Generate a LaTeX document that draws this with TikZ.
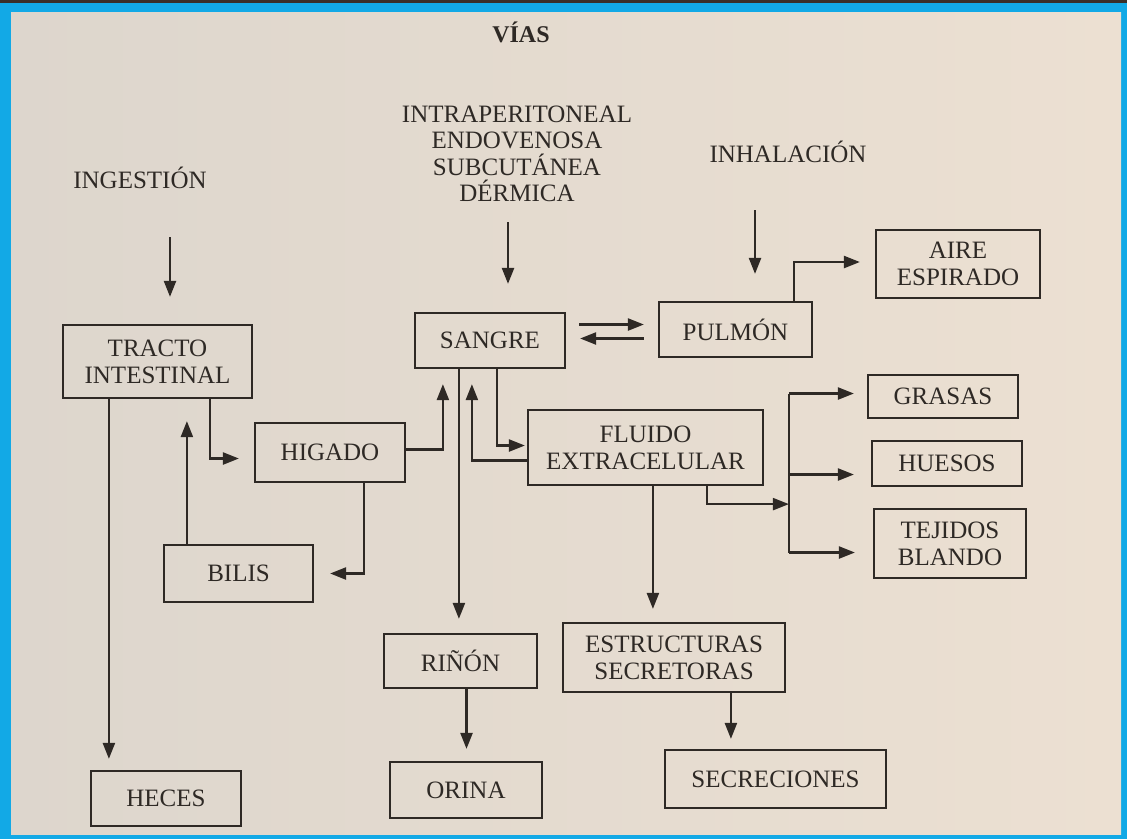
\documentclass[tikz,border=0pt]{standalone}
\usepackage{fontspec}
\setmainfont{Liberation Serif}
\usetikzlibrary{arrows.meta,calc}
\definecolor{ink}{HTML}{2E2925}
\definecolor{paperL}{HTML}{DDD6CD}
\definecolor{paperR}{HTML}{ECE0D2}
\definecolor{frameblue}{HTML}{12A9E6}
\definecolor{topdark}{HTML}{3A2F28}
\tikzset{
  box/.style={draw=ink, line width=2.2pt, inner sep=0pt, align=center, text=ink,
    font=\fontsize{25}{27}\selectfont},
  lbl/.style={text=ink, align=center, font=\fontsize{25}{26.5}\selectfont},
  conn/.style={draw=ink, line width=2.3pt},
  arr/.style={conn, -{Triangle[length=16pt,width=12pt]}, shorten >=12pt},
}
\begin{document}
\begin{tikzpicture}[x=1pt,y=-1pt]
\useasboundingbox (0,0) rectangle (1127,839);
% frame
\fill[frameblue] (0,0) rectangle (1127,839);
\fill[topdark] (0,0) rectangle (1127,3);
\shade[left color=paperL, right color=paperR] (11,12) rectangle (1121,834);

% labels
\node[lbl, font=\fontsize{24}{26}\selectfont\bfseries] (vias) at (521,32) {VÍAS};
\node[lbl] (ingest) at (140,178) {INGESTIÓN};
\node[lbl] (inhal) at (788,152) {INHALACIÓN};
\node[lbl] (parent) at (517,154) {INTRAPERITONEAL\\ENDOVENOSA\\SUBCUTÁNEA\\DÉRMICA};

% boxes
\node[box, minimum width=189pt, minimum height=73pt] (tracto) at (157.5,361.5) {TRACTO\\INTESTINAL};
\node[box, minimum width=150pt, minimum height=55pt] (sangre) at (490,340.5) {SANGRE};
\node[box, minimum width=153pt, minimum height=55pt] (pulmon) at (735.5,329.5) {PULMÓN};
\node[box, minimum width=164pt, minimum height=68pt] (aire) at (958,264) {AIRE\\ESPIRADO};
\node[box, minimum width=150pt, minimum height=59pt] (higado) at (330,452.5) {HIGADO};
\node[box, minimum width=235pt, minimum height=75pt] (fluido) at (645.5,447.5) {FLUIDO\\EXTRACELULAR};
\node[box, minimum width=150pt, minimum height=43pt] (grasas) at (943,396.5) {GRASAS};
\node[box, minimum width=150pt, minimum height=45pt] (huesos) at (947,463.5) {HUESOS};
\node[box, minimum width=152pt, minimum height=69pt] (tejidos) at (950,543.5) {TEJIDOS\\BLANDO};
\node[box, minimum width=149pt, minimum height=57pt] (bilis) at (238.5,573.5) {BILIS};
\node[box, minimum width=153pt, minimum height=54pt] (rinon) at (460.5,661) {RIÑÓN};
\node[box, minimum width=222pt, minimum height=69pt] (estruct) at (674,657.5) {ESTRUCTURAS\\SECRETORAS};
\node[box, minimum width=150pt, minimum height=55pt] (heces) at (166,798.5) {HECES};
\node[box, minimum width=152pt, minimum height=56pt] (orina) at (466,790) {ORINA};
\node[box, minimum width=221pt, minimum height=58pt] (secrec) at (775.5,779) {SECRECIONES};

% entry arrows
\coordinate (ia) at (170,237);
\draw[arr, shorten >=27pt] (ia) -- (ia |- tracto.north);
\coordinate (va) at (508,222);
\draw[arr, shorten >=28pt] (va) -- (va |- sangre.north);
\coordinate (ha) at (755,210);
\draw[arr, shorten >=27pt] (ha) -- (ha |- pulmon.north);

% sangre <-> pulmon
\coordinate (s1) at ($(sangre.east)+(0,-16)$);
\draw[arr, shorten <=13pt, shorten >=14pt] (s1) -- (s1 -| pulmon.west);
\coordinate (s2) at ($(sangre.east)+(0,-2)$);
\draw[arr, shorten <=14pt, shorten >=14pt] (s2 -| pulmon.west) -- (s2);

% pulmon -> aire
\coordinate (p1) at ($(pulmon.north west)+(136,0)$);
\coordinate (aw) at ($(aire.west)+(0,-2)$);
\draw[arr, shorten >=15pt] (p1) |- (aw);

% tracto -> heces
\coordinate (t1) at ($(tracto.south west)+(47,0)$);
\draw[arr, shorten >=11pt] (t1) -- (t1 |- heces.north);

% tracto -> higado
\coordinate (t2) at ($(tracto.south west)+(148,0)$);
\coordinate (h1) at ($(higado.west)+(0,6)$);
\draw[arr, shorten >=15pt] (t2) |- (h1);

% bilis -> tracto
\coordinate (b1) at ($(bilis.north west)+(24,0)$);
\draw[arr, shorten >=22pt] (b1) -- (b1 |- tracto.south);

% higado -> bilis
\coordinate (h2) at ($(higado.south west)+(110,0)$);
\draw[arr, shorten >=16pt] (h2) |- (bilis.east);

% higado -> sangre
\coordinate (h3) at ($(higado.east)+(0,-3)$);
\coordinate (s3) at ($(sangre.south west)+(29,0)$);
\draw[arr, shorten >=15pt] (h3) -| (s3);

% sangre -> rinon
\coordinate (s4) at ($(sangre.south west)+(45,0)$);
\draw[arr, shorten >=14pt] (s4) -- (s4 |- rinon.north);

% fluido -> sangre
\coordinate (f1) at ($(fluido.west)+(0,13)$);
\coordinate (s5) at ($(sangre.south west)+(58,0)$);
\draw[arr, shorten >=15pt] (f1) -| (s5);

% sangre -> fluido
\coordinate (s6) at ($(sangre.south west)+(83,0)$);
\coordinate (f2) at ($(fluido.west)+(0,-2)$);
\draw[arr, shorten >=2pt] (s6) |- (f2);

% fluido -> branch
\coordinate (f3) at ($(fluido.south west)+(180,0)$);
\coordinate (j) at ($(f3)+(82,18)$);
\draw[arr, shorten >=0pt] (f3) |- (j);
\coordinate (gw) at ($(grasas.west)+(0,-3)$);
\coordinate (hw) at ($(huesos.west)+(0,11)$);
\coordinate (tw) at ($(tejidos.west)+(0,9)$);
\draw[conn] (j |- gw) -- (j |- tw);
\draw[arr, shorten >=13pt] (j |- gw) -- (gw);
\draw[arr, shorten >=17pt] (j |- hw) -- (hw);
\draw[arr, shorten >=18pt] (j |- tw) -- (tw);

% fluido -> estructuras
\coordinate (f4) at ($(fluido.south west)+(126,0)$);
\draw[arr, shorten >=13pt] (f4) -- (f4 |- estruct.north);

% estructuras -> secreciones
\coordinate (e1) at ($(estruct.south west)+(169,0)$);
\draw[arr, shorten >=10pt] (e1) -- (e1 |- secrec.north);

% rinon -> orina
\coordinate (r1) at ($(rinon.south)+(6,0)$);
\draw[arr, shorten >=12pt] (r1) -- (r1 |- orina.north);
\end{tikzpicture}
\end{document}
